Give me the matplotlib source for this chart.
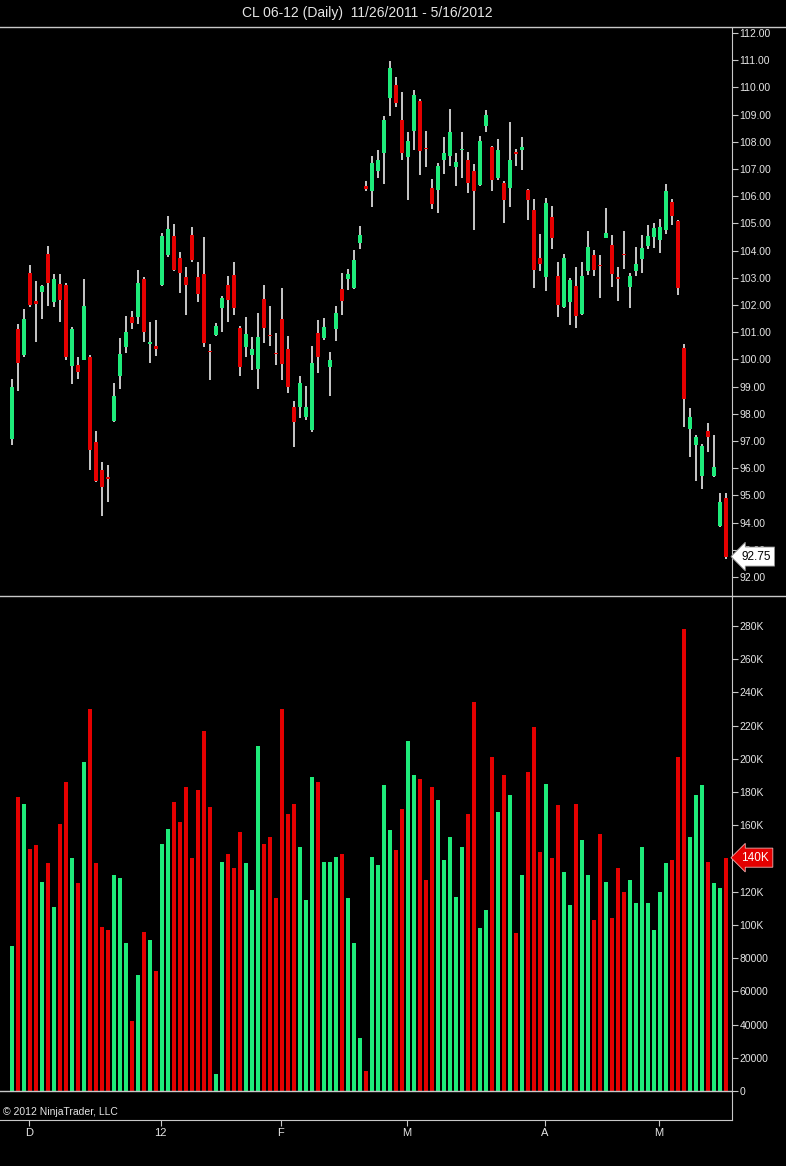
import matplotlib
matplotlib.use("Agg")
import matplotlib.pyplot as plt
import matplotlib.transforms as mtransforms
from matplotlib.lines import Line2D

plt.rcParams['font.family'] = ['Liberation Sans', 'DejaVu Sans']

# daily bars CL 06-12, 11/26/2011 - 5/16/2012
opens = [97.06, 101.11, 100.15, 103.19, 102.15, 102.48, 103.87, 102.09, 102.76, 102.73,
         99.77, 99.78, 99.98, 100.10, 96.95, 95.94, 95.69, 97.75, 99.37, 100.45,
         101.55, 101.55, 102.96, 100.55, 100.49, 102.73, 103.84, 104.54, 103.72, 103.02,
         104.57, 103.02, 103.14, 100.30, 100.90, 101.88, 102.73, 103.10, 101.14, 100.47,
         100.16, 99.63, 102.21, 100.88, 100.24, 101.47, 100.37, 98.24, 98.26, 97.89,
         97.40, 100.96, 100.77, 99.70, 101.11, 102.58, 102.94, 102.61, 104.27, 106.38,
         106.17, 106.94, 107.58, 109.60, 110.09, 108.80, 107.45, 108.41, 109.51, 107.75,
         106.29, 106.23, 107.31, 107.48, 107.06, 107.68, 107.33, 106.94, 106.41, 108.58,
         107.82, 106.66, 106.47, 106.29, 107.62, 107.68, 106.23, 105.50, 103.71, 103.02,
         105.25, 103.07, 101.94, 102.09, 102.70, 101.67, 103.23, 103.84, 103.45, 104.45,
         104.21, 103.00, 103.86, 102.67, 103.26, 103.68, 104.17, 104.49, 104.39, 104.76,
         105.80, 105.10, 100.41, 97.43, 96.85, 95.71, 97.38, 95.71, 93.87, 94.89]
highs = [99.28, 101.30, 101.86, 103.47, 102.88, 102.74, 104.17, 103.14, 103.14, 102.79,
         101.19, 100.09, 102.96, 100.16, 97.37, 96.23, 96.12, 99.12, 100.80, 101.60,
         101.76, 103.29, 103.04, 101.39, 101.43, 104.66, 105.27, 104.98, 103.96, 103.41,
         104.88, 103.59, 104.51, 100.57, 101.35, 102.33, 103.07, 103.59, 101.23, 101.57,
         100.81, 101.72, 102.73, 101.96, 100.98, 102.61, 100.84, 98.48, 99.39, 99.02,
         100.49, 101.45, 101.51, 100.28, 101.96, 103.19, 103.31, 104.02, 104.90, 106.57,
         107.48, 107.70, 108.95, 110.95, 110.37, 109.81, 108.37, 109.90, 109.56, 108.41,
         106.62, 107.21, 108.16, 109.19, 107.60, 108.34, 107.64, 107.18, 108.21, 109.17,
         107.85, 108.09, 106.54, 108.74, 107.72, 108.16, 106.25, 105.88, 104.61, 105.92,
         105.64, 103.59, 103.87, 102.98, 103.41, 103.59, 104.70, 104.02, 103.84, 105.55,
         104.57, 103.41, 104.70, 103.16, 104.12, 104.57, 104.94, 105.00, 105.15, 106.45,
         105.88, 105.13, 100.57, 98.20, 97.22, 96.89, 97.67, 97.22, 95.07, 95.10]
lows = [96.86, 98.85, 100.07, 101.94, 100.62, 101.50, 101.97, 101.94, 101.39, 99.98,
        99.10, 99.26, 99.98, 95.94, 95.50, 94.25, 94.77, 97.70, 98.90, 100.25,
        101.11, 101.29, 100.65, 99.86, 100.13, 102.70, 103.78, 103.26, 102.43, 101.63,
        103.59, 102.09, 100.47, 99.24, 100.84, 101.02, 101.39, 101.63, 99.37, 100.10,
        99.61, 98.90, 100.59, 100.49, 99.81, 99.24, 98.78, 96.79, 97.83, 97.77,
        97.34, 99.49, 100.71, 98.65, 100.69, 101.63, 102.55, 102.58, 104.05, 106.20,
        105.61, 106.66, 106.45, 108.95, 109.27, 107.31, 105.84, 107.70, 106.78, 107.06,
        105.52, 105.37, 106.82, 107.11, 106.38, 106.66, 106.13, 104.76, 106.38, 108.34,
        106.17, 106.60, 105.00, 105.61, 107.09, 106.96, 105.13, 102.61, 103.26, 102.53,
        104.05, 101.55, 101.88, 101.26, 101.14, 101.63, 103.10, 103.07, 102.25, 104.45,
        102.65, 102.16, 103.31, 101.88, 103.07, 103.16, 104.05, 104.08, 103.92, 104.61,
        104.94, 102.37, 97.53, 96.42, 95.54, 95.22, 96.61, 95.68, 93.85, 92.65]
closes = [99.00, 99.88, 101.48, 101.99, 102.05, 102.68, 102.80, 102.95, 102.19, 100.07,
          101.12, 99.52, 101.95, 96.65, 95.54, 95.30, 95.59, 98.67, 100.19, 101.02,
          101.35, 102.82, 100.99, 100.62, 100.37, 104.54, 104.78, 103.29, 103.17, 102.73,
          103.65, 102.40, 100.61, 100.26, 101.23, 102.24, 102.18, 101.88, 99.73, 100.93,
          100.37, 100.81, 101.14, 100.84, 100.18, 99.82, 99.00, 97.71, 99.12, 98.24,
          99.88, 100.08, 101.20, 99.98, 101.72, 102.16, 103.14, 103.65, 104.57, 106.25,
          107.23, 107.31, 108.78, 110.70, 109.44, 107.60, 108.04, 109.72, 107.67, 107.72,
          105.71, 107.11, 107.60, 108.37, 107.27, 107.72, 106.50, 106.20, 108.04, 108.99,
          106.60, 107.70, 105.84, 107.31, 107.56, 107.80, 105.86, 103.27, 103.51, 105.74,
          104.45, 102.00, 103.72, 102.92, 101.60, 103.07, 104.12, 103.29, 103.43, 104.66,
          103.14, 102.97, 103.84, 103.07, 103.51, 104.08, 104.54, 104.82, 104.88, 106.17,
          105.27, 102.61, 98.53, 97.87, 97.16, 96.81, 97.14, 96.03, 94.77, 92.75]
# volume in thousands of contracts
volume_k = [87, 177, 173, 146, 148, 126, 137, 111, 161, 186,
            140, 125, 198, 230, 137, 99, 97, 130, 128, 89,
            42, 70, 96, 91, 72, 149, 158, 174, 162, 183,
            140, 181, 217, 171, 10, 138, 143, 134, 156, 137,
            121, 208, 149, 153, 116, 230, 167, 173, 147, 115,
            189, 186, 138, 138, 141, 143, 116, 89, 32, 12,
            141, 136, 184, 157, 145, 170, 211, 190, 188, 127,
            183, 175, 139, 153, 117, 147, 167, 234, 98, 109,
            201, 168, 190, 178, 95, 130, 192, 219, 144, 185,
            140, 172, 132, 112, 173, 151, 130, 103, 155, 126,
            104, 134, 120, 127, 113, 147, 113, 97, 120, 137,
            139, 201, 278, 153, 178, 184, 138, 125, 122, 140.5]
month_ticks = [3, 25, 45, 66, 89, 108]
month_labels = ["D", "12", "F", "M", "A", "M"]

W, H = 786, 1166
UP, DOWN, WICK = "#1EEB7A", "#E40000", "#D8D8D8"
LINE, TXT = "#C8C8C8", "#E6E6E6"


def px_rect(left, top, right, bottom):
    return [left / W, 1 - bottom / H, (right - left) / W, (bottom - top) / H]


def fig_line(x0, x1, y0, y1):
    fig.add_artist(Line2D([x0 / W, x1 / W], [1 - y0 / H, 1 - y1 / H],
                          transform=fig.transFigure, color=LINE, lw=1))


fig = plt.figure(figsize=(W / 100, H / 100), dpi=100, facecolor="black")
x = list(range(len(closes)))
colors = [UP if c > o else DOWN for o, c in zip(opens, closes)]

# price panel: wicks first, bodies on top
ax_p = fig.add_axes(px_rect(0, 28, 732, 596), facecolor="black")
ax_p.vlines(x, lows, highs, colors=WICK, lw=1.3, zorder=2)
bottoms = [min(o, c) for o, c in zip(opens, closes)]
heights = [max(abs(c - o), 0.05) for o, c in zip(opens, closes)]
ax_p.bar(x, heights, bottom=bottoms, width=0.52, color=colors, linewidth=0, zorder=3)
ax_p.set_xlim(-2, 120)
ax_p.set_ylim(91.30, 112.18)
ax_p.set_xticks([])
price_ticks = list(range(92, 113))
ax_p.set_yticks(price_ticks)
ax_p.set_yticklabels([f"{v:.2f}" for v in price_ticks])

# volume panel
ax_v = fig.add_axes(px_rect(0, 597, 732, 1120), facecolor="black")
ax_v.bar(x, volume_k, width=0.52, color=colors, linewidth=0, zorder=3)
ax_v.axhline(0, color=LINE, lw=1, zorder=4)
ax_v.set_xlim(-2, 120)
ax_v.set_ylim(-17.5, 297.5)
vol_ticks = list(range(0, 281, 20))
ax_v.set_yticks(vol_ticks)
ax_v.set_yticklabels([f"{v}K" if v >= 100 else str(v * 1000) for v in vol_ticks])
ax_v.set_xticks([t - 0.2 for t in month_ticks])
ax_v.set_xticklabels(month_labels)

for ax in (ax_p, ax_v):
    for side in ("left", "top", "bottom"):
        ax.spines[side].set_visible(False)
    ax.spines["right"].set_color(LINE)
    ax.yaxis.tick_right()
    ax.tick_params(axis="y", colors=LINE, labelcolor=TXT, length=4.3, width=0.8,
                   pad=1, labelsize=7.5)
ax_v.spines["bottom"].set_visible(True)
ax_v.spines["bottom"].set_color(LINE)
ax_v.tick_params(axis="x", colors=LINE, labelcolor=TXT, length=4.3, width=0.8,
                 pad=1.5, labelsize=8)

# last-value markers (they sit over the axis labels, as in the platform)
tr_p = mtransforms.blended_transform_factory(ax_p.transAxes, ax_p.transData)
ax_p.text(1.013, closes[-1], f"{closes[-1]:.2f}", transform=tr_p, ha="left",
          va="center", fontsize=8.5, color="black", zorder=10,
          bbox=dict(boxstyle="larrow,pad=0.3", fc="white", ec="#909090", lw=0.6))
tr_v = mtransforms.blended_transform_factory(ax_v.transAxes, ax_v.transData)
ax_v.text(1.013, volume_k[-1], f"{int(volume_k[-1])}K", transform=tr_v, ha="left",
          va="center", fontsize=8.5, color="white", zorder=10,
          bbox=dict(boxstyle="larrow,pad=0.3", fc=DOWN, ec="#F0B0B0", lw=0.6))

# frame and texts
fig_line(0, W, 27, 27)
fig_line(0, W, 596, 596)
fig.text(367 / W, 1 - 13 / H, "CL 06-12 (Daily)  11/26/2011 - 5/16/2012",
         ha="center", va="center", color=TXT, fontsize=10)
fig.text(3 / W, 1 - 1112 / H, "\u00a9 2012 NinjaTrader, LLC", ha="left",
         va="center", color=TXT, fontsize=7.5)

fig.savefig("out.png", dpi=100, facecolor="black")
